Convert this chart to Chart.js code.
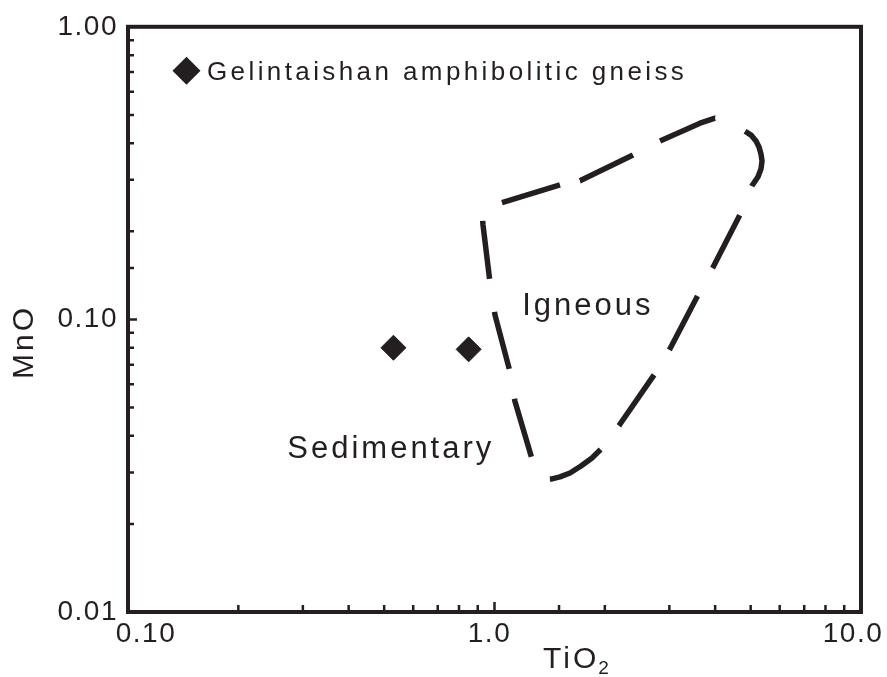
<!DOCTYPE html>
<html>
<head>
<meta charset="utf-8">
<script src="https://cdn.jsdelivr.net/npm/chart.js@4.4.1/dist/chart.umd.min.js"></script>
<style>
  html, body { margin: 0; padding: 0; background: #fff; }
  #wrap { width: 887px; height: 677px; }
</style>
</head>
<body>
<div id="wrap"><canvas id="tio2-mno-chart" width="887" height="677"></canvas></div>
<script>
// TiO2 vs MnO discrimination plot (log-log)

// Gelintaishan amphibolitic gneiss samples
const sampleTiO2 = [0.53, 0.85];
const sampleMnO = [0.08, 0.079];

// Igneous field outline, starting at the top-left and running clockwise
const igneousTiO2 = [
  1.048, 1.509, 1.711, 2.387, 2.829, 3.637, 3.996, 4.418, 4.826, 5.011,
  5.17, 5.269, 5.335, 5.37, 5.335, 5.236, 5.042, 4.676, 3.947, 3.592,
  3.012, 2.741, 2.199, 1.965, 1.845, 1.722, 1.607, 1.509, 1.435, 1.298,
  1.266, 1.137, 1.102, 1.003, 0.972, 0.93, 0.924, 1.048,
];
const igneousMnO = [
  0.2506, 0.2884, 0.2976, 0.3647, 0.4069, 0.4685, 0.4871, 0.4796, 0.4399, 0.4265,
  0.4069, 0.3882, 0.3676, 0.3479, 0.327, 0.3071, 0.2862, 0.2282, 0.1508, 0.1211,
  0.0794, 0.0653, 0.0438, 0.0363, 0.0336, 0.03156, 0.02987, 0.02895, 0.0285, 0.0283,
  0.0333, 0.0525, 0.0663, 0.1036, 0.134, 0.211, 0.2372, 0.2506,
];

// Field labels, anchored at their left baseline
const fieldLabels = ["Igneous", "Sedimentary"];
const fieldLabelTiO2 = [1.19, 0.272];
const fieldLabelMnO = [0.1036, 0.0336];

// Axis tick labels
const xTickValues = [0.1, 1, 10];
const xTickLabels = ["0.10", "1.0", "10.0"];
const yTickValues = [0.01, 0.1, 1];
const yTickLabels = ["0.01", "0.10", "1.00"];

const INK = "#231f20";
const FONT = '"Liberation Sans", Arial, Helvetica, sans-serif';

// hand-drawn dash rhythm of the field outline (dash, gap, dash, gap ...)
const outlineDash = [
  60.7, 20.4, 59, 30.4, 59.7, 33.9, 63.5, 31.4, 59.5, 31.8, 60.8,
  29.2, 61.9, 30, 59.8, 37.4, 60.4, 30.4, 58.9, 33.4, 58.4, 36.2,
];

// horizontal nudge of each x tick label from its tick
const xLabelNudge = [18, -5, -8];

function sameValue(a, b) {
  return Math.abs(Math.log10(a) - Math.log10(b)) < 1e-6;
}

function isDecade(v) {
  const l = Math.log10(v);
  return Math.abs(l - Math.round(l)) < 1e-6;
}

function setFont(ctx, size, spacing) {
  ctx.font = `${size}px ${FONT}`;
  ctx.letterSpacing = spacing + "px";
}

function diamond(ctx, cx, cy, r) {
  ctx.beginPath();
  ctx.moveTo(cx - r, cy);
  ctx.lineTo(cx, cy - r);
  ctx.lineTo(cx + r, cy);
  ctx.lineTo(cx, cy + r);
  ctx.closePath();
  ctx.fill();
}

// y tick labels are drawn by the scale; give them a little tracking
const tickSpacing = {
  id: "tickSpacing",
  beforeDraw(chart) {
    chart.ctx.letterSpacing = "1.5px";
  },
  beforeDatasetsDraw(chart) {
    chart.ctx.letterSpacing = "0px";
  },
};

// Frame, inward tick marks, x labels, axis titles, legend and field names
const decorations = {
  id: "decorations",
  afterDraw(chart) {
    const { ctx, chartArea: a } = chart;
    const x = chart.scales.x;
    const y = chart.scales.y;

    ctx.save();
    ctx.strokeStyle = INK;
    ctx.fillStyle = INK;
    ctx.lineCap = "butt";

    // tick marks pointing into the plot
    ctx.lineWidth = 2.5;
    ctx.beginPath();
    x.ticks.forEach((t) => {
      const px = x.getPixelForValue(t.value);
      if (px <= a.left + 2 || px >= a.right - 2) return;
      const len = isDecade(t.value) ? 10 : 7;
      ctx.moveTo(px, a.bottom);
      ctx.lineTo(px, a.bottom - len);
    });
    y.ticks.forEach((t) => {
      const py = y.getPixelForValue(t.value);
      if (py <= a.top + 2 || py >= a.bottom - 2) return;
      const len = isDecade(t.value) ? 9 : 6;
      ctx.moveTo(a.left, py);
      ctx.lineTo(a.left + len, py);
    });
    ctx.stroke();

    // plot frame
    ctx.lineWidth = 4;
    ctx.lineJoin = "miter";
    ctx.strokeRect(a.left, a.top, a.right - a.left, a.bottom - a.top);

    // x tick labels
    setFont(ctx, 28, 1.5);
    ctx.textAlign = "center";
    ctx.textBaseline = "alphabetic";
    xTickValues.forEach((v, i) => {
      ctx.fillText(xTickLabels[i], x.getPixelForValue(v) + xLabelNudge[i], a.bottom + 30);
    });

    // axis titles
    setFont(ctx, 30, 3);
    ctx.textAlign = "left";
    ctx.fillText("TiO", 543, 668);
    const tw = ctx.measureText("TiO").width;
    setFont(ctx, 19, 1);
    ctx.fillText("2", 543 + tw - 1, 674);

    ctx.save();
    ctx.translate(33, 342);
    ctx.rotate(-Math.PI / 2);
    setFont(ctx, 30, 3);
    ctx.textAlign = "center";
    ctx.fillText("MnO", 0, 0);
    ctx.restore();

    // legend
    diamond(ctx, a.left + 58.5, a.top + 44, 14);
    setFont(ctx, 26, 3.4);
    ctx.textAlign = "left";
    ctx.fillText("Gelintaishan amphibolitic gneiss", a.left + 79, a.top + 53);

    // field names
    setFont(ctx, 31, 3);
    fieldLabels.forEach((label, i) => {
      ctx.fillText(
        label,
        x.getPixelForValue(fieldLabelTiO2[i]),
        y.getPixelForValue(fieldLabelMnO[i])
      );
    });

    ctx.restore();
  },
};

const ctx = document.getElementById("tio2-mno-chart").getContext("2d");

new Chart(ctx, {
  type: "scatter",
  data: {
    datasets: [
      {
        label: "Igneous field",
        data: igneousTiO2.map((v, i) => ({ x: v, y: igneousMnO[i] })),
        showLine: true,
        fill: false,
        borderColor: INK,
        borderWidth: 5.5,
        borderDash: outlineDash,
        borderCapStyle: "butt",
        borderJoinStyle: "round",
        tension: 0,
        pointRadius: 0,
        pointHoverRadius: 0,
      },
      {
        label: "Gelintaishan amphibolitic gneiss",
        data: sampleTiO2.map((v, i) => ({ x: v, y: sampleMnO[i] })),
        pointStyle: "rectRot",
        pointRadius: 12.5,
        pointHoverRadius: 12.5,
        backgroundColor: INK,
        borderColor: INK,
        borderWidth: 1,
      },
    ],
  },
  options: {
    responsive: false,
    animation: false,
    events: [],
    layout: {
      padding: { top: 23, right: 26, left: 0, bottom: 0 },
    },
    plugins: {
      legend: { display: false },
      tooltip: { enabled: false },
    },
    scales: {
      x: {
        type: "logarithmic",
        min: 0.1,
        max: 10,
        grid: { display: false, drawTicks: false },
        border: { display: false },
        ticks: { display: false, autoSkip: false },
        afterFit(scale) {
          scale.height = 65;
        },
      },
      y: {
        type: "logarithmic",
        min: 0.01,
        max: 1,
        grid: { display: false, drawTicks: false },
        border: { display: false },
        ticks: {
          autoSkip: false,
          padding: 10,
          color: INK,
          font: { family: FONT, size: 28 },
          callback: (value) => {
            const i = yTickValues.findIndex((t) => sameValue(t, value));
            return i >= 0 ? yTickLabels[i] : "";
          },
        },
        afterFit(scale) {
          scale.width = 128;
        },
      },
    },
  },
  plugins: [tickSpacing, decorations],
});
</script>
</body>
</html>
